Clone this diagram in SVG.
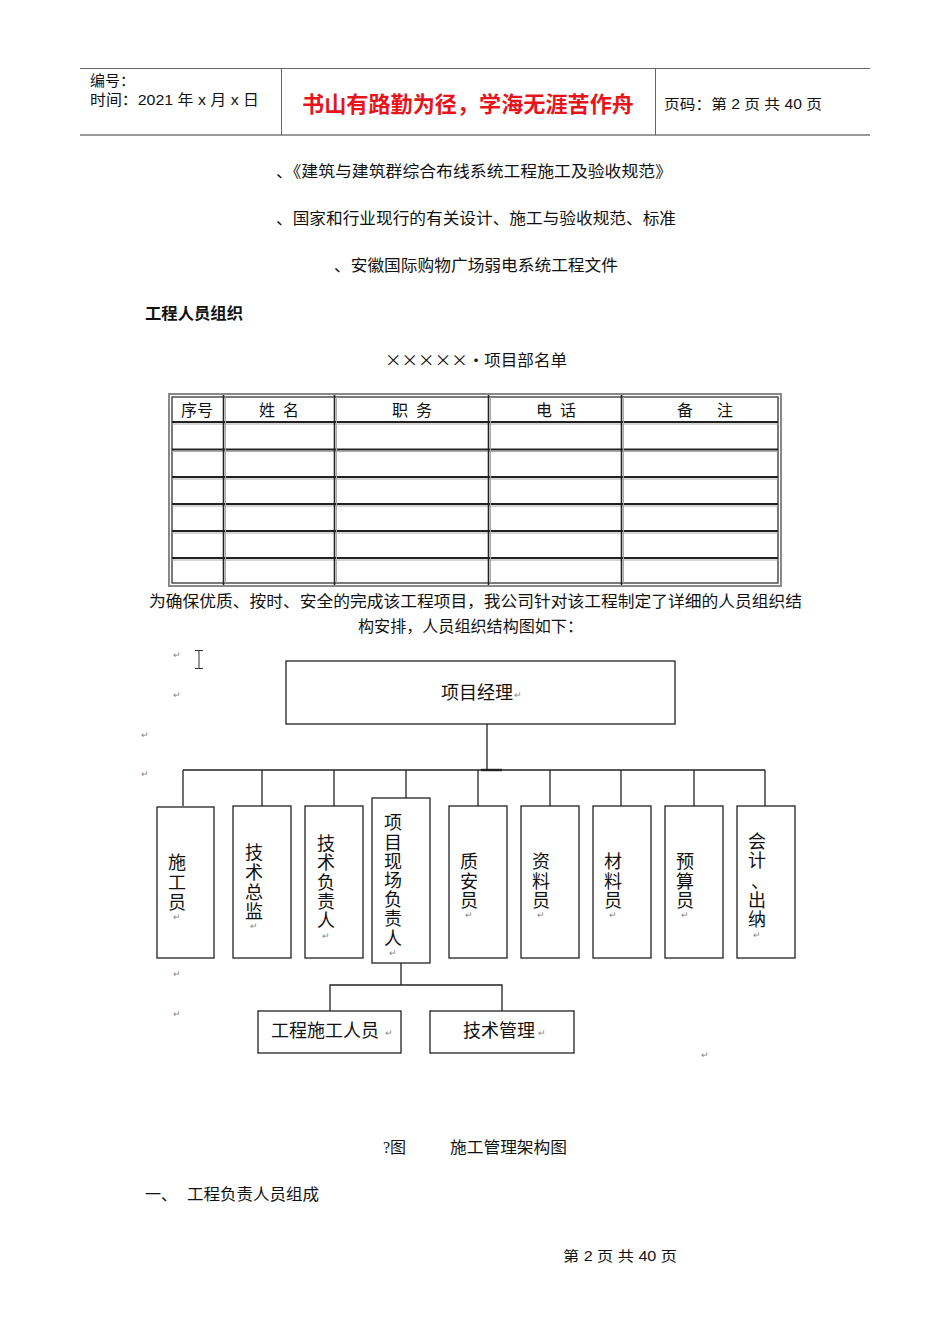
<svg xmlns="http://www.w3.org/2000/svg" width="950" height="1344" viewBox="0 0 950 1344">
<style>
.t{font-family:"Liberation Serif","Noto Sans CJK SC",serif;font-size:16px;fill:#111}
.s{font-family:"Liberation Sans","Noto Sans CJK SC",sans-serif;fill:#111}
.c{font-family:"Noto Sans CJK SC",sans-serif;font-size:16px;fill:#111}
.node{fill:#fff;stroke:#222;stroke-width:1.3}
.conn{fill:none;stroke:#222;stroke-width:1.3}
.ret{font-family:"Liberation Sans","Noto Sans CJK SC",sans-serif;font-size:9px;fill:#888}
.vl{font-family:"Liberation Sans","Noto Sans CJK SC",sans-serif;font-size:18px;fill:#111;text-anchor:middle}
.tb{stroke:#222;stroke-width:2}
.tg{stroke:#aaa;stroke-width:1}
</style>
<rect width="950" height="1344" fill="#fff"/>
<!-- header -->
<g id="header">
<line x1="80" y1="68.5" x2="870" y2="68.5" stroke="#666" stroke-width="1"/>
<line x1="80" y1="135" x2="870" y2="135" stroke="#999" stroke-width="2"/>
<line x1="281.5" y1="68" x2="281.5" y2="135" stroke="#666" stroke-width="1"/>
<line x1="655.5" y1="68" x2="655.5" y2="135" stroke="#666" stroke-width="1"/>
<text class="s" x="90" y="86" font-size="15">编号：</text>
<text class="s" x="90" y="105" font-size="15" textLength="169" lengthAdjust="spacingAndGlyphs">时间：2021 年 x 月 x 日</text>
<text class="s" x="302" y="112" font-size="22" font-weight="bold" style="fill:#e8141c" textLength="332" lengthAdjust="spacingAndGlyphs">书山有路勤为径，学海无涯苦作舟</text>
<text class="s" x="664" y="109" font-size="14" textLength="158" lengthAdjust="spacingAndGlyphs">页码：第 2 页  共 40 页</text>
</g>
<!-- body text -->
<text class="t" x="276" y="177" textLength="396" lengthAdjust="spacingAndGlyphs">、《建筑与建筑群综合布线系统工程施工及验收规范》</text>
<text class="t" x="276" y="224" textLength="400" lengthAdjust="spacingAndGlyphs">、国家和行业现行的有关设计、施工与验收规范、标准</text>
<text class="t" x="334" y="271" textLength="284" lengthAdjust="spacingAndGlyphs">、安徽国际购物广场弱电系统工程文件</text>
<text class="s" x="145" y="319" font-size="16" font-weight="bold" textLength="98" lengthAdjust="spacingAndGlyphs">工程人员组织</text>
<text class="c" x="385" y="366" textLength="182" lengthAdjust="spacingAndGlyphs">×××××•项目部名单</text>
<!-- table -->
<g id="table">
<rect x="169" y="394" width="612" height="192" fill="none" stroke="#888" stroke-width="2"/>
<rect x="172" y="397" width="606" height="186" fill="none" stroke="#222" stroke-width="1.2"/>
<g class="tb">
<line x1="172" y1="422" x2="778" y2="422"/>
<line x1="172" y1="449.5" x2="778" y2="449.5"/>
<line x1="172" y1="477" x2="778" y2="477"/>
<line x1="172" y1="504" x2="778" y2="504"/>
<line x1="172" y1="531" x2="778" y2="531"/>
<line x1="172" y1="558" x2="778" y2="558"/>
</g>
<g class="tg">
<line x1="172" y1="424" x2="778" y2="424"/>
<line x1="172" y1="451.5" x2="778" y2="451.5"/>
<line x1="172" y1="479" x2="778" y2="479"/>
<line x1="172" y1="506" x2="778" y2="506"/>
<line x1="172" y1="533" x2="778" y2="533"/>
<line x1="172" y1="560" x2="778" y2="560"/>
</g>
<g stroke="#222" stroke-width="1.6">
<line x1="223.5" y1="395" x2="223.5" y2="585"/>
<line x1="334.5" y1="395" x2="334.5" y2="585"/>
<line x1="488.5" y1="395" x2="488.5" y2="585"/>
<line x1="621.5" y1="395" x2="621.5" y2="585"/>
</g>
<g stroke="#aaa" stroke-width="1">
<line x1="225.5" y1="397" x2="225.5" y2="583"/>
<line x1="336.5" y1="397" x2="336.5" y2="583"/>
<line x1="490.5" y1="397" x2="490.5" y2="583"/>
<line x1="623.5" y1="397" x2="623.5" y2="583"/>
</g>
<text class="t" x="197" y="416" text-anchor="middle" font-size="15">序号</text>
<text class="t" x="279" y="416" text-anchor="middle" font-size="15" xml:space="preserve">姓  名</text>
<text class="t" x="412" y="416" text-anchor="middle" font-size="15" xml:space="preserve">职  务</text>
<text class="t" x="556" y="416" text-anchor="middle" font-size="15" xml:space="preserve">电  话</text>
<text class="t" x="705" y="416" text-anchor="middle" font-size="15" xml:space="preserve">备      注</text>
</g>
<text class="t" x="149" y="607" textLength="653" lengthAdjust="spacingAndGlyphs">为确保优质、按时、安全的完成该工程项目，我公司针对该工程制定了详细的人员组织结</text>
<text class="t" x="358" y="632" textLength="225" lengthAdjust="spacingAndGlyphs">构安排，人员组织结构图如下：</text>
<!-- paragraph marks and cursor -->
<g id="marks">
<text class="ret" x="173" y="658">↵</text>
<text class="ret" x="173" y="698">↵</text>
<text class="ret" x="141" y="738">↵</text>
<text class="ret" x="141" y="777">↵</text>
<text class="ret" x="173" y="977">↵</text>
<text class="ret" x="173" y="1017">↵</text>
<text class="ret" x="701" y="1058">↵</text>
<path d="M195 650.5h8M195 668.5h8M199 651v17" stroke="#333" stroke-width="1" fill="none"/>
</g>
<!-- connectors -->
<g id="connectors" class="conn">
<line x1="487" y1="724" x2="487" y2="770"/>
<line x1="183" y1="770" x2="765" y2="770"/>
<line x1="481" y1="770" x2="502" y2="770" stroke-width="2.4"/>
<line x1="183" y1="770" x2="183" y2="806"/>
<line x1="262" y1="770" x2="262" y2="806"/>
<line x1="334" y1="770" x2="334" y2="806"/>
<line x1="406" y1="770" x2="406" y2="798"/>
<line x1="478" y1="770" x2="478" y2="806"/>
<line x1="550" y1="770" x2="550" y2="806"/>
<line x1="621" y1="770" x2="621" y2="806"/>
<line x1="694" y1="770" x2="694" y2="806"/>
<line x1="765" y1="770" x2="765" y2="806"/>
<line x1="401" y1="963" x2="401" y2="985"/>
<polyline points="330,1011 330,985 502,985 502,1011"/>
</g>
<!-- nodes -->
<g id="n-pm"><rect class="node" x="286" y="661" width="389" height="63"/><text class="s" x="441" y="699" font-size="18">项目经理</text><text class="ret" x="514" y="698">↵</text></g>
<g id="n1"><rect class="node" x="157" y="807" width="57" height="151"/>
<text class="vl"><tspan x="177" y="869">施</tspan><tspan x="177" y="889">工</tspan><tspan x="177" y="909">员</tspan></text><text class="ret" x="173" y="920">↵</text></g>
<g id="n2"><rect class="node" x="233" y="806" width="58" height="152"/>
<text class="vl"><tspan x="254" y="859">技</tspan><tspan x="254" y="879">术</tspan><tspan x="254" y="899">总</tspan><tspan x="254" y="918">监</tspan></text><text class="ret" x="250" y="929">↵</text></g>
<g id="n3"><rect class="node" x="305" y="806" width="58" height="152"/>
<text class="vl"><tspan x="326" y="850">技</tspan><tspan x="326" y="869">术</tspan><tspan x="326" y="889">负</tspan><tspan x="326" y="908">责</tspan><tspan x="326" y="927">人</tspan></text><text class="ret" x="322" y="939">↵</text></g>
<g id="n4"><rect class="node" x="372" y="798" width="58" height="165"/>
<text class="vl"><tspan x="393" y="829">项</tspan><tspan x="393" y="849">目</tspan><tspan x="393" y="868">现</tspan><tspan x="393" y="887">场</tspan><tspan x="393" y="906">负</tspan><tspan x="393" y="925">责</tspan><tspan x="393" y="945">人</tspan></text><text class="ret" x="389" y="956">↵</text></g>
<g id="n5"><rect class="node" x="449" y="806" width="58" height="152"/>
<text class="vl"><tspan x="469" y="868">质</tspan><tspan x="469" y="888">安</tspan><tspan x="469" y="907">员</tspan></text><text class="ret" x="465" y="918">↵</text></g>
<g id="n6"><rect class="node" x="521" y="806" width="58" height="152"/>
<text class="vl"><tspan x="541" y="868">资</tspan><tspan x="541" y="888">料</tspan><tspan x="541" y="907">员</tspan></text><text class="ret" x="537" y="918">↵</text></g>
<g id="n7"><rect class="node" x="593" y="806" width="58" height="152"/>
<text class="vl"><tspan x="613" y="868">材</tspan><tspan x="613" y="888">料</tspan><tspan x="613" y="907">员</tspan></text><text class="ret" x="609" y="918">↵</text></g>
<g id="n8"><rect class="node" x="665" y="806" width="58" height="152"/>
<text class="vl"><tspan x="685" y="868">预</tspan><tspan x="685" y="888">算</tspan><tspan x="685" y="907">员</tspan></text><text class="ret" x="681" y="918">↵</text></g>
<g id="n9"><rect class="node" x="737" y="806" width="58" height="152"/>
<text class="vl"><tspan x="757" y="848">会</tspan><tspan x="757" y="867">计</tspan><tspan x="760" y="888">、</tspan><tspan x="757" y="907">出</tspan><tspan x="757" y="926">纳</tspan></text><text class="ret" x="753" y="938">↵</text></g>
<g id="n-gc"><rect class="node" x="258" y="1011" width="143" height="42"/><text class="s" x="271" y="1037" font-size="18">工程施工人员</text><text class="ret" x="385" y="1036">↵</text></g>
<g id="n-tm"><rect class="node" x="430" y="1011" width="144" height="42"/><text class="s" x="463" y="1037" font-size="18">技术管理</text><text class="ret" x="538" y="1036">↵</text></g>
<!-- caption and footer -->
<text class="t" x="383" y="1153">?图</text>
<text class="t" x="450" y="1153" textLength="117" lengthAdjust="spacingAndGlyphs">施工管理架构图</text>
<text class="t" x="145" y="1200">一、</text>
<text class="t" x="187" y="1200" textLength="132" lengthAdjust="spacingAndGlyphs">工程负责人员组成</text>
<text class="s" x="563" y="1261" font-size="14" textLength="114" lengthAdjust="spacingAndGlyphs">第 2 页 共 40 页</text>
</svg>
